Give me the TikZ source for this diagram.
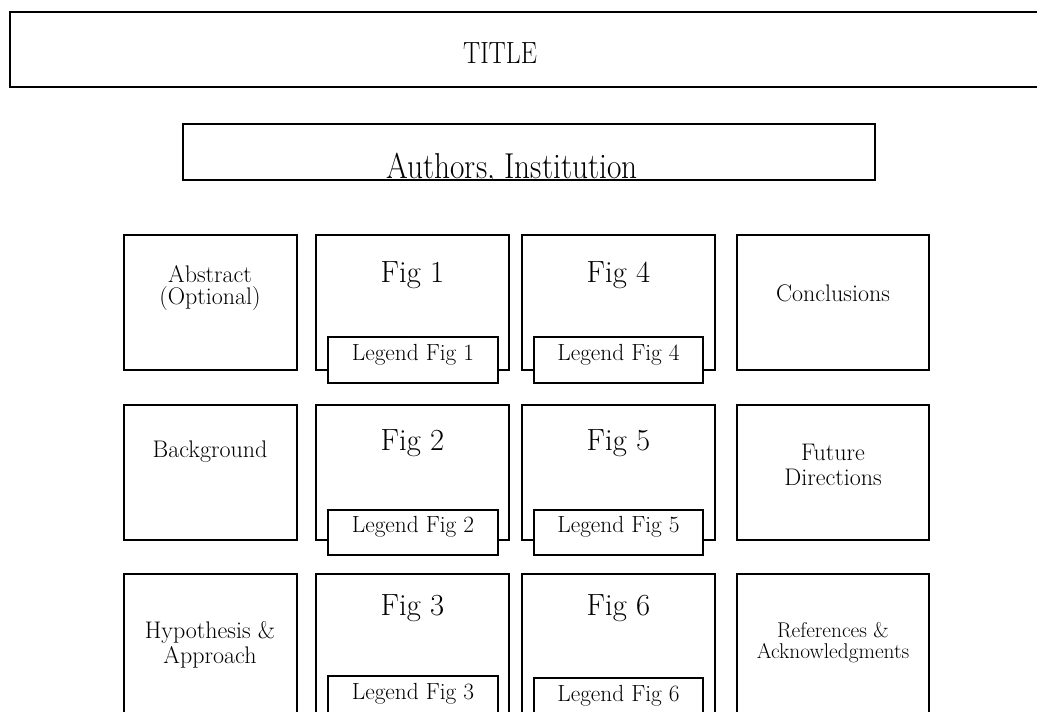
\documentclass[tikz,border=0pt]{standalone}
\usepackage{fontspec}
\usetikzlibrary{fit}
\tikzset{
  panel/.style={draw=black, line width=1.4pt, fill=white, inner sep=0pt},
  sidetxt/.style={font=\fontsize{18}{21}\selectfont, inner sep=0pt, anchor=base},
  smalltxt/.style={font=\fontsize{16}{19}\selectfont, inner sep=0pt, anchor=base},
  figtxt/.style={font=\fontsize{23}{27}\selectfont, inner sep=0pt, anchor=base},
  legtxt/.style={font=\fontsize{17.5}{20}\selectfont, inner sep=0pt, anchor=base},
  headtxt/.style={inner sep=0pt, anchor=base}
}
\begin{document}
\begin{tikzpicture}[x=0.75pt,y=-0.75pt]
\clip (0,0) rectangle (1037,712);
\fill[white] (0,0) rectangle (1037,712);
% title
\node[panel, fit={(10,12)(1060,87)}] (title) {};
\node[headtxt] (titletxt) at (500,64) {\fontsize{23}{27}\selectfont\scalebox{0.84}[1]{TITLE}};
% authors
\node[panel, fit={(183,124)(875,180)}] (authors) {};
\begin{scope}
\clip (184,125) rectangle (874,179);
\node[headtxt] (authorstxt) at (512,179) {\fontsize{27}{31}\selectfont\scalebox{0.87}[1]{Authors, Institution}};
\end{scope}
% left column
\node[panel, fit={(124,235)(297,370)}] (abs) {};
\node[sidetxt] (absA) at (210,283) {Abstract};
\node[sidetxt] (absB) at (210,305) {(Optional)};
\node[panel, fit={(124,405)(297,540)}] (bg) {};
\node[sidetxt] (bgA) at (210,457) {Background};
\node[panel, fit={(124,574)(297,760)}] (hyp) {};
\node[sidetxt] (hypA) at (210,638) {Hypothesis \&};
\node[sidetxt] (hypB) at (210,663) {Approach};
% right column
\node[panel, fit={(737,235)(929,370)}] (conc) {};
\node[sidetxt] (concA) at (833,302) {Conclusions};
\node[panel, fit={(737,405)(929,540)}] (fut) {};
\node[sidetxt] (futA) at (833,460) {Future};
\node[sidetxt] (futB) at (833,485) {Directions};
\node[panel, fit={(737,574)(929,760)}] (refs) {};
\node[smalltxt] (refsA) at (833,637) {References \&};
\node[smalltxt] (refsB) at (833,658) {Acknowledgments};
% figure boxes
\node[panel, fit={(316,235)(509,370)}] (fig1) {};
\node[figtxt] (fig1t) at (412.5,283) {Fig 1};
\node[panel, fit={(522,235)(715,370)}] (fig4) {};
\node[figtxt] (fig4t) at (618.5,283) {Fig 4};
\node[panel, fit={(316,405)(509,540)}] (fig2) {};
\node[figtxt] (fig2t) at (412.5,450) {Fig 2};
\node[panel, fit={(522,405)(715,540)}] (fig5) {};
\node[figtxt] (fig5t) at (618.5,450) {Fig 5};
\node[panel, fit={(316,574)(509,760)}] (fig3) {};
\node[figtxt] (fig3t) at (412.5,615) {Fig 3};
\node[panel, fit={(522,574)(715,760)}] (fig6) {};
\node[figtxt] (fig6t) at (618.5,615) {Fig 6};
% legends
\node[panel, fit={(328,337)(498,383)}] (leg1) {};
\node[legtxt] (leg1t) at (413,360) {Legend Fig 1};
\node[panel, fit={(534,337)(703,383)}] (leg4) {};
\node[legtxt] (leg4t) at (618.5,360) {Legend Fig 4};
\node[panel, fit={(328,510)(498,555)}] (leg2) {};
\node[legtxt] (leg2t) at (413,532) {Legend Fig 2};
\node[panel, fit={(534,510)(703,555)}] (leg5) {};
\node[legtxt] (leg5t) at (618.5,532) {Legend Fig 5};
\node[panel, fit={(328,676)(498,740)}] (leg3) {};
\node[legtxt] (leg3t) at (413,699) {Legend Fig 3};
\node[panel, fit={(534,678)(703,740)}] (leg6) {};
\node[legtxt] (leg6t) at (618.5,701) {Legend Fig 6};
\end{tikzpicture}
\end{document}
